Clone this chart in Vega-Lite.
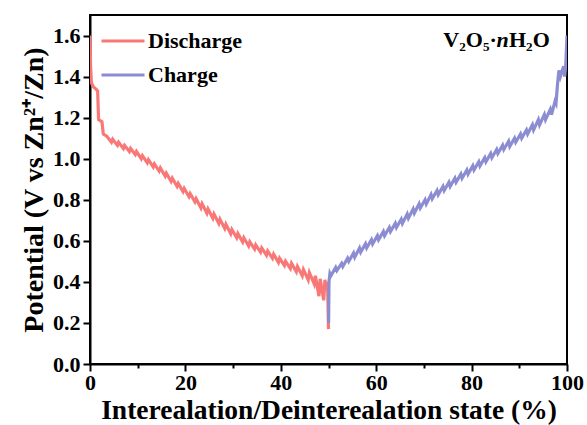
{
  "$schema": "https://vega.github.io/schema/vega-lite/v6.json",
  "width": 477,
  "height": 349,
  "autosize": {"type": "none"},
  "padding": {"left": 90, "top": 15, "right": 20, "bottom": 61},
  "background": "white",
  "config": {
    "view": {"stroke": "black", "strokeWidth": 2},
    "font": "Liberation Serif",
    "axis": {
      "domainColor": "black", "domainWidth": 2, "tickColor": "black", "tickWidth": 2,
      "labelFont": "Liberation Serif", "labelFontWeight": "bold", "labelColor": "black",
      "titleFont": "Liberation Serif", "titleFontWeight": "bold", "titleColor": "black",
      "grid": false
    }
  },
  "resolve": {"axis": {"x": "independent"}},
  "datasets": {
    "curves": [
      {"series": "Discharge", "x": 0, "y": 1.6},
      {"series": "Discharge", "x": 0.12, "y": 1.45},
      {"series": "Discharge", "x": 0.3, "y": 1.37},
      {"series": "Discharge", "x": 0.7, "y": 1.35},
      {"series": "Discharge", "x": 1.2, "y": 1.34},
      {"series": "Discharge", "x": 1.6, "y": 1.33},
      {"series": "Discharge", "x": 1.8, "y": 1.19},
      {"series": "Discharge", "x": 2.5, "y": 1.18},
      {"series": "Discharge", "x": 2.8, "y": 1.12},
      {"series": "Discharge", "x": 3.5, "y": 1.11},
      {"series": "Discharge", "x": 4.5, "y": 1.08},
      {"series": "Discharge", "x": 4.75, "y": 1.095},
      {"series": "Discharge", "x": 5.75, "y": 1.065},
      {"series": "Discharge", "x": 6.0, "y": 1.08},
      {"series": "Discharge", "x": 7.0, "y": 1.05},
      {"series": "Discharge", "x": 7.25, "y": 1.065},
      {"series": "Discharge", "x": 8.25, "y": 1.035},
      {"series": "Discharge", "x": 8.5, "y": 1.05},
      {"series": "Discharge", "x": 9.5, "y": 1.02},
      {"series": "Discharge", "x": 9.75, "y": 1.035},
      {"series": "Discharge", "x": 10.75, "y": 1.0},
      {"series": "Discharge", "x": 11.0, "y": 1.015},
      {"series": "Discharge", "x": 12.0, "y": 0.98},
      {"series": "Discharge", "x": 12.25, "y": 0.995},
      {"series": "Discharge", "x": 13.25, "y": 0.96},
      {"series": "Discharge", "x": 13.5, "y": 0.975},
      {"series": "Discharge", "x": 14.5, "y": 0.94},
      {"series": "Discharge", "x": 14.75, "y": 0.955},
      {"series": "Discharge", "x": 15.75, "y": 0.915},
      {"series": "Discharge", "x": 16.0, "y": 0.93},
      {"series": "Discharge", "x": 17.0, "y": 0.89},
      {"series": "Discharge", "x": 17.25, "y": 0.905},
      {"series": "Discharge", "x": 18.25, "y": 0.865},
      {"series": "Discharge", "x": 18.5, "y": 0.88},
      {"series": "Discharge", "x": 19.5, "y": 0.84},
      {"series": "Discharge", "x": 19.75, "y": 0.855},
      {"series": "Discharge", "x": 20.75, "y": 0.815},
      {"series": "Discharge", "x": 21.0, "y": 0.83},
      {"series": "Discharge", "x": 22.0, "y": 0.79},
      {"series": "Discharge", "x": 22.25, "y": 0.805},
      {"series": "Discharge", "x": 23.25, "y": 0.76},
      {"series": "Discharge", "x": 23.5, "y": 0.78},
      {"series": "Discharge", "x": 24.5, "y": 0.735},
      {"series": "Discharge", "x": 24.75, "y": 0.755},
      {"series": "Discharge", "x": 25.75, "y": 0.71},
      {"series": "Discharge", "x": 26.0, "y": 0.73},
      {"series": "Discharge", "x": 27.0, "y": 0.685},
      {"series": "Discharge", "x": 27.25, "y": 0.705},
      {"series": "Discharge", "x": 28.25, "y": 0.66},
      {"series": "Discharge", "x": 28.5, "y": 0.68},
      {"series": "Discharge", "x": 29.5, "y": 0.635},
      {"series": "Discharge", "x": 29.75, "y": 0.655},
      {"series": "Discharge", "x": 30.75, "y": 0.615},
      {"series": "Discharge", "x": 31.0, "y": 0.635},
      {"series": "Discharge", "x": 32.0, "y": 0.595},
      {"series": "Discharge", "x": 32.25, "y": 0.615},
      {"series": "Discharge", "x": 33.25, "y": 0.575},
      {"series": "Discharge", "x": 33.5, "y": 0.595},
      {"series": "Discharge", "x": 34.5, "y": 0.56},
      {"series": "Discharge", "x": 34.75, "y": 0.58},
      {"series": "Discharge", "x": 35.75, "y": 0.545},
      {"series": "Discharge", "x": 36.0, "y": 0.565},
      {"series": "Discharge", "x": 37.0, "y": 0.53},
      {"series": "Discharge", "x": 37.25, "y": 0.55},
      {"series": "Discharge", "x": 38.25, "y": 0.515},
      {"series": "Discharge", "x": 38.5, "y": 0.535},
      {"series": "Discharge", "x": 39.5, "y": 0.495},
      {"series": "Discharge", "x": 39.75, "y": 0.515},
      {"series": "Discharge", "x": 40.75, "y": 0.48},
      {"series": "Discharge", "x": 41.0, "y": 0.5},
      {"series": "Discharge", "x": 42.0, "y": 0.465},
      {"series": "Discharge", "x": 42.25, "y": 0.49},
      {"series": "Discharge", "x": 43.25, "y": 0.45},
      {"series": "Discharge", "x": 43.5, "y": 0.475},
      {"series": "Discharge", "x": 44.5, "y": 0.43},
      {"series": "Discharge", "x": 44.75, "y": 0.46},
      {"series": "Discharge", "x": 45.75, "y": 0.41},
      {"series": "Discharge", "x": 46.0, "y": 0.445},
      {"series": "Discharge", "x": 47.0, "y": 0.39},
      {"series": "Discharge", "x": 47.25, "y": 0.43},
      {"series": "Discharge", "x": 48.0, "y": 0.33},
      {"series": "Discharge", "x": 48.25, "y": 0.415},
      {"series": "Discharge", "x": 49.0, "y": 0.31},
      {"series": "Discharge", "x": 49.25, "y": 0.41},
      {"series": "Discharge", "x": 49.6, "y": 0.36},
      {"series": "Discharge", "x": 49.8, "y": 0.4},
      {"series": "Discharge", "x": 50.0, "y": 0.17},
      {"series": "Charge", "x": 50.02, "y": 0.2},
      {"series": "Charge", "x": 50.1, "y": 0.4},
      {"series": "Charge", "x": 50.3, "y": 0.44},
      {"series": "Charge", "x": 50.5, "y": 0.43},
      {"series": "Charge", "x": 51.5, "y": 0.47},
      {"series": "Charge", "x": 51.75, "y": 0.455},
      {"series": "Charge", "x": 52.75, "y": 0.49},
      {"series": "Charge", "x": 53.0, "y": 0.475},
      {"series": "Charge", "x": 54.0, "y": 0.515},
      {"series": "Charge", "x": 54.25, "y": 0.5},
      {"series": "Charge", "x": 55.25, "y": 0.54},
      {"series": "Charge", "x": 55.5, "y": 0.52},
      {"series": "Charge", "x": 56.5, "y": 0.565},
      {"series": "Charge", "x": 56.75, "y": 0.545},
      {"series": "Charge", "x": 57.75, "y": 0.585},
      {"series": "Charge", "x": 58.0, "y": 0.565},
      {"series": "Charge", "x": 59.0, "y": 0.605},
      {"series": "Charge", "x": 59.25, "y": 0.585},
      {"series": "Charge", "x": 60.25, "y": 0.625},
      {"series": "Charge", "x": 60.5, "y": 0.605},
      {"series": "Charge", "x": 61.5, "y": 0.645},
      {"series": "Charge", "x": 61.75, "y": 0.625},
      {"series": "Charge", "x": 62.75, "y": 0.665},
      {"series": "Charge", "x": 63.0, "y": 0.645},
      {"series": "Charge", "x": 64.0, "y": 0.685},
      {"series": "Charge", "x": 64.25, "y": 0.665},
      {"series": "Charge", "x": 65.25, "y": 0.705},
      {"series": "Charge", "x": 65.5, "y": 0.685},
      {"series": "Charge", "x": 66.5, "y": 0.73},
      {"series": "Charge", "x": 66.75, "y": 0.71},
      {"series": "Charge", "x": 67.75, "y": 0.755},
      {"series": "Charge", "x": 68.0, "y": 0.735},
      {"series": "Charge", "x": 69.0, "y": 0.78},
      {"series": "Charge", "x": 69.25, "y": 0.76},
      {"series": "Charge", "x": 70.25, "y": 0.8},
      {"series": "Charge", "x": 70.5, "y": 0.78},
      {"series": "Charge", "x": 71.5, "y": 0.825},
      {"series": "Charge", "x": 71.75, "y": 0.805},
      {"series": "Charge", "x": 72.75, "y": 0.845},
      {"series": "Charge", "x": 73.0, "y": 0.825},
      {"series": "Charge", "x": 74.0, "y": 0.865},
      {"series": "Charge", "x": 74.25, "y": 0.845},
      {"series": "Charge", "x": 75.25, "y": 0.885},
      {"series": "Charge", "x": 75.5, "y": 0.865},
      {"series": "Charge", "x": 76.5, "y": 0.905},
      {"series": "Charge", "x": 76.75, "y": 0.885},
      {"series": "Charge", "x": 77.75, "y": 0.925},
      {"series": "Charge", "x": 78.0, "y": 0.905},
      {"series": "Charge", "x": 79.0, "y": 0.945},
      {"series": "Charge", "x": 79.25, "y": 0.925},
      {"series": "Charge", "x": 80.25, "y": 0.965},
      {"series": "Charge", "x": 80.5, "y": 0.945},
      {"series": "Charge", "x": 81.5, "y": 0.985},
      {"series": "Charge", "x": 81.75, "y": 0.965},
      {"series": "Charge", "x": 82.75, "y": 1.005},
      {"series": "Charge", "x": 83.0, "y": 0.985},
      {"series": "Charge", "x": 84.0, "y": 1.025},
      {"series": "Charge", "x": 84.25, "y": 1.005},
      {"series": "Charge", "x": 85.25, "y": 1.045},
      {"series": "Charge", "x": 85.5, "y": 1.025},
      {"series": "Charge", "x": 86.5, "y": 1.065},
      {"series": "Charge", "x": 86.75, "y": 1.045},
      {"series": "Charge", "x": 87.75, "y": 1.085},
      {"series": "Charge", "x": 88.0, "y": 1.06},
      {"series": "Charge", "x": 89.0, "y": 1.1},
      {"series": "Charge", "x": 89.25, "y": 1.08},
      {"series": "Charge", "x": 90.25, "y": 1.12},
      {"series": "Charge", "x": 90.5, "y": 1.1},
      {"series": "Charge", "x": 91.5, "y": 1.14},
      {"series": "Charge", "x": 91.75, "y": 1.12},
      {"series": "Charge", "x": 92.75, "y": 1.165},
      {"series": "Charge", "x": 93.0, "y": 1.14},
      {"series": "Charge", "x": 94.0, "y": 1.19},
      {"series": "Charge", "x": 94.25, "y": 1.165},
      {"series": "Charge", "x": 95.25, "y": 1.215},
      {"series": "Charge", "x": 95.5, "y": 1.19},
      {"series": "Charge", "x": 96.5, "y": 1.24},
      {"series": "Charge", "x": 96.75, "y": 1.215},
      {"series": "Charge", "x": 97.5, "y": 1.28},
      {"series": "Charge", "x": 97.7, "y": 1.27},
      {"series": "Charge", "x": 98.0, "y": 1.36},
      {"series": "Charge", "x": 98.3, "y": 1.43},
      {"series": "Charge", "x": 98.6, "y": 1.4},
      {"series": "Charge", "x": 99.0, "y": 1.43},
      {"series": "Charge", "x": 99.3, "y": 1.45},
      {"series": "Charge", "x": 99.5, "y": 1.4},
      {"series": "Charge", "x": 99.75, "y": 1.46},
      {"series": "Charge", "x": 100.0, "y": 1.6}
    ],
    "label": [{"x": 96.4, "y": 1.576, "a": "V₂O₅·", "b": "n", "c": "H₂O"}]
  },
  "layer": [
    {
      "data": {"name": "curves"},
      "mark": {"type": "line", "strokeWidth": 3.2, "clip": true},
      "encoding": {
        "x": {
          "field": "x", "type": "quantitative",
          "scale": {"domain": [0, 100], "nice": false},
          "axis": {
            "orient": "bottom",
            "title": "Interealation/Deinterealation state (%)",
            "values": [0, 20, 40, 60, 80, 100],
            "labelFontSize": 22, "titleFontSize": 27.5, "tickSize": 7,
            "labelPadding": 1, "titlePadding": 3, "labelFlush": false
          }
        },
        "y": {
          "field": "y", "type": "quantitative",
          "scale": {"domain": [0, 1.7], "nice": false},
          "axis": {
            "title": "Potential (V vs Zn²⁺/Zn)",
            "values": [0, 0.2, 0.4, 0.6, 0.8, 1.0, 1.2, 1.4, 1.6],
            "format": ".1f",
            "labelFontSize": 22, "titleFontSize": 28, "tickSize": 7,
            "labelPadding": 3, "titlePadding": 4
          }
        },
        "color": {
          "field": "series", "type": "nominal",
          "scale": {"domain": ["Discharge", "Charge"], "range": ["#F87878", "#8C8CD2"]},
          "legend": {
            "title": null, "orient": "none", "legendX": 10, "legendY": 3,
            "symbolType": "stroke", "symbolSize": 1849, "symbolStrokeWidth": 3,
            "labelFont": "Liberation Serif", "labelFontWeight": "bold", "labelFontSize": 22,
            "labelColor": "black", "rowPadding": -17, "padding": 0, "labelOffset": 2
          }
        }
      }
    },
    {
      "data": {"name": "label"},
      "mark": {"type": "text", "align": "right", "baseline": "middle", "font": "Liberation Serif", "fontWeight": "bold", "fontSize": 22, "color": "black"},
      "encoding": {
        "x": {
          "field": "x", "type": "quantitative",
          "axis": {"orient": "bottom", "values": [10, 30, 50, 70, 90], "tickSize": 4, "labels": false, "domain": false, "title": null}
        },
        "y": {"field": "y", "type": "quantitative"},
        "text": {"field": "c"}
      }
    },
    {
      "data": {"name": "label"},
      "mark": {"type": "text", "align": "right", "baseline": "middle", "dx": -41, "font": "Liberation Serif", "fontWeight": "bold", "fontStyle": "italic", "fontSize": 22, "color": "black"},
      "encoding": {
        "x": {"field": "x", "type": "quantitative", "axis": null},
        "y": {"field": "y", "type": "quantitative"},
        "text": {"field": "b"}
      }
    },
    {
      "data": {"name": "label"},
      "mark": {"type": "text", "align": "right", "baseline": "middle", "dx": -53, "font": "Liberation Serif", "fontWeight": "bold", "fontSize": 22, "color": "black"},
      "encoding": {
        "x": {"field": "x", "type": "quantitative", "axis": null},
        "y": {"field": "y", "type": "quantitative"},
        "text": {"field": "a"}
      }
    }
  ]
}
